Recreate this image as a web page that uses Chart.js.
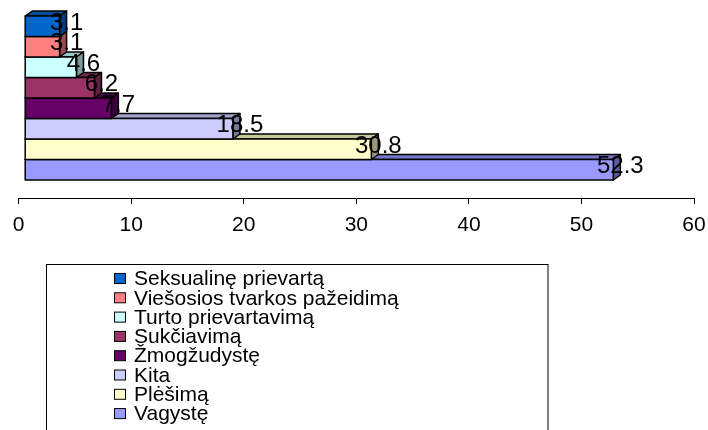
<!DOCTYPE html>
<html>
<head>
<meta charset="utf-8">
<script src="https://cdn.jsdelivr.net/npm/chart.js@4.4.0/dist/chart.umd.min.js"></script>
<style>
  html, body { margin: 0; padding: 0; background: #ffffff; }
  canvas { display: block; }
</style>
</head>
<body>
<canvas id="c" width="708" height="430"></canvas>
<script>
// Crime types and their shares, in percent
const categories = [
  'Seksualinę prievartą',
  'Viešosios tvarkos pažeidimą',
  'Turto prievartavimą',
  'Sukčiavimą',
  'Žmogžudystę',
  'Kita',
  'Plėšimą',
  'Vagystę'
];
const shares = [3.1, 3.1, 4.6, 6.2, 7.7, 18.5, 30.8, 52.3];
const barColors = ['#0066CC', '#FF8080', '#CCFFFF', '#993366', '#660066', '#CCCCFF', '#FFFFCC', '#9999FF'];
const axisTicks = [0, 10, 20, 30, 40, 50, 60];

const FONT = '"Liberation Sans", Arial, sans-serif';
const DEPTH_X = 7, DEPTH_Y = 5;    // receding depth of every box
const FRONT_X = 6, FRONT_Y = -18;  // front faces sit up and right of the axis floor

function shade(hex, f) {
  const n = parseInt(hex.slice(1), 16);
  const r = Math.round(((n >> 16) & 255) * f);
  const g = Math.round(((n >> 8) & 255) * f);
  const b = Math.round((n & 255) * f);
  return `rgb(${r},${g},${b})`;
}

function poly(ctx, pts, fill) {
  ctx.beginPath();
  ctx.moveTo(pts[0][0], pts[0][1]);
  for (let k = 1; k < pts.length; k++) ctx.lineTo(pts[k][0], pts[k][1]);
  ctx.closePath();
  ctx.fillStyle = fill;
  ctx.fill();
  ctx.stroke();
}

// Draws each bar as a box (front, top and side faces) from the bar element geometry
const boxBars = {
  id: 'boxBars',
  beforeDatasetDraw() { return false; },
  afterDatasetsDraw(chart) {
    const ctx = chart.ctx;
    const els = chart.getDatasetMeta(0).data;
    const geo = els.map(el => {
      const p = el.getProps(['x', 'y', 'base', 'height'], true);
      return {
        x0: p.base + FRONT_X,
        x1: p.x + FRONT_X,
        y0: p.y - p.height / 2 + FRONT_Y,
        y1: p.y + p.height / 2 + FRONT_Y,
        cy: p.y + FRONT_Y
      };
    });
    ctx.save();
    ctx.lineWidth = 1.5;
    ctx.strokeStyle = '#000000';
    ctx.lineJoin = 'round';
    for (let i = geo.length - 1; i >= 0; i--) {
      const { x0, x1, y0, y1 } = geo[i];
      const c = barColors[i];
      poly(ctx, [[x0, y0], [x0 + DEPTH_X, y0 - DEPTH_Y], [x1 + DEPTH_X, y0 - DEPTH_Y], [x1, y0]], shade(c, 0.78));
      poly(ctx, [[x1, y0], [x1 + DEPTH_X, y0 - DEPTH_Y], [x1 + DEPTH_X, y1 - DEPTH_Y], [x1, y1]], shade(c, 0.6));
      poly(ctx, [[x0, y0], [x1, y0], [x1, y1], [x0, y1]], c);
    }
    ctx.font = '24px ' + FONT;
    ctx.textAlign = 'center';
    ctx.textBaseline = 'middle';
    ctx.fillStyle = '#000000';
    geo.forEach((g, i) => {
      ctx.fillText(String(shares[i]), g.x1 + DEPTH_X, g.cy - 3);
    });
    ctx.restore();
  }
};

// Boxed legend listing one entry per crime type
const boxLegend = {
  id: 'boxLegend',
  afterDraw(chart) {
    const ctx = chart.ctx;
    ctx.save();
    ctx.strokeStyle = '#000000';
    ctx.lineWidth = 1;
    ctx.strokeRect(46.5, 264.5, 501.5, 200);
    ctx.font = '21px ' + FONT;
    ctx.textAlign = 'left';
    ctx.textBaseline = 'middle';
    categories.forEach((name, i) => {
      const cy = 278.5 + i * 19.3;
      ctx.fillStyle = barColors[i];
      ctx.fillRect(114.5, cy - 5, 11, 10);
      ctx.strokeRect(114.5, cy - 5, 11, 10);
      ctx.fillStyle = '#000000';
      ctx.fillText(name, 134, cy + 1);
    });
    ctx.restore();
  }
};

new Chart(document.getElementById('c'), {
  type: 'bar',
  data: {
    labels: categories,
    datasets: [{
      data: shares,
      backgroundColor: barColors,
      barPercentage: 1,
      categoryPercentage: 1
    }]
  },
  options: {
    indexAxis: 'y',
    responsive: false,
    animation: false,
    devicePixelRatio: 1,
    layout: { padding: { left: 18.7, right: 14, top: 34, bottom: 192 } },
    plugins: {
      legend: { display: false },
      tooltip: { enabled: false }
    },
    scales: {
      y: { type: 'category', display: false, offset: true },
      x: {
        type: 'linear',
        min: 0,
        max: 60,
        afterBuildTicks: s => { s.ticks = axisTicks.map(v => ({ value: v })); },
        afterFit: s => { s.height = 40; s.paddingLeft = 0; s.paddingRight = 0; },
        border: { display: true, color: '#000000', width: 1 },
        grid: { drawOnChartArea: false, drawTicks: true, tickLength: 6, color: '#000000' },
        ticks: { color: '#000000', padding: 9, font: { family: FONT, size: 21 } }
      }
    }
  },
  plugins: [boxBars, boxLegend]
});
</script>
</body>
</html>
